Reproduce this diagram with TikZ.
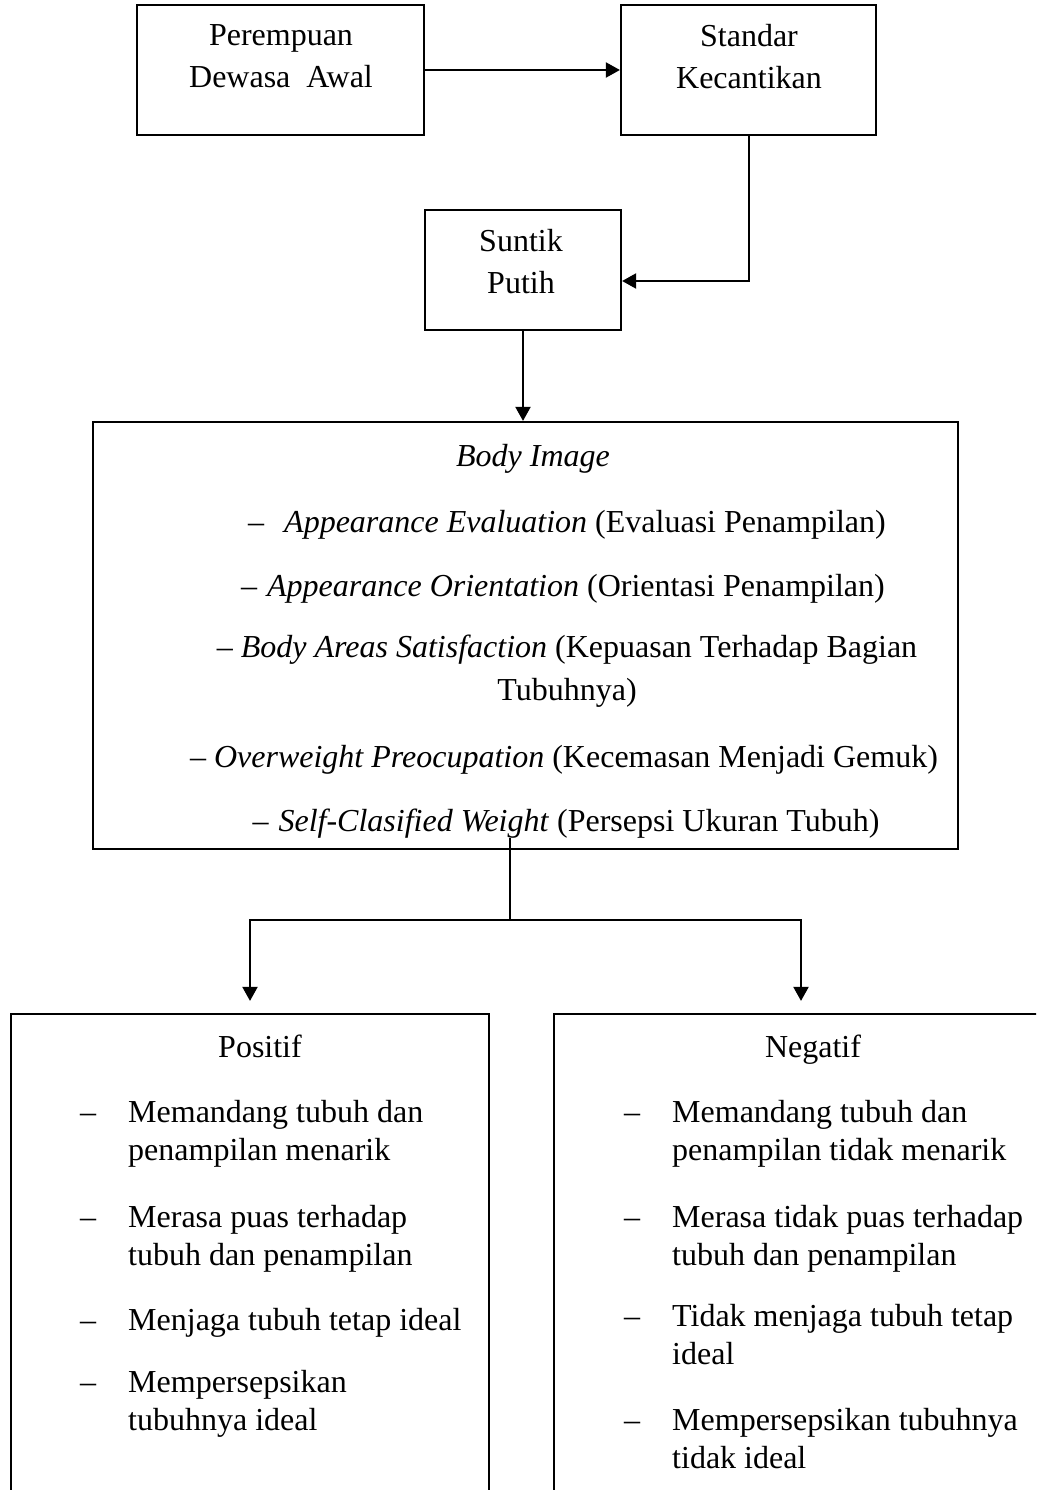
\documentclass[tikz,border=0pt]{standalone}
\usepackage{fontspec}
\setmainfont{Liberation Serif}
\usetikzlibrary{arrows.meta}
\newcommand{\tegak}{\rule{0pt}{27pt}}
\tikzset{
 kotak/.style={draw,line width=2.2pt,inner sep=0pt},
 teks/.style={inner sep=0pt,anchor=north,align=center,font=\fontsize{32}{42}\selectfont,execute at begin node=\tegak},
 butir/.style={teks,anchor=north west,align=left,font=\fontsize{32}{38}\selectfont},
 garis/.style={line width=2pt},
 panah/.style={garis,-{Triangle[length=14pt,width=15pt]}}
}
\begin{document}
\begin{tikzpicture}[x=1pt,y=-1pt]
\useasboundingbox (0,0) rectangle (1036,1490); \clip (0,0) rectangle (1036,1490);
% kotak atas
\node[kotak,minimum width=287pt,minimum height=130pt] (dewasa) at (280.5,70) {};
\node[kotak,minimum width=255pt,minimum height=130pt] (standar) at (748.5,70) {};
\node[kotak,minimum width=196pt,minimum height=120pt] (suntik) at (523,270) {};
\node[teks] (dewasaT) at (281,24) {Perempuan\\Dewasa\ \ Awal};
\node[teks] (standarT) at (749,24) {Standar\\Kecantikan};
\node[teks] (suntikT) at (521,229) {Suntik\\Putih};
% body image
\node[kotak,minimum width=865pt,minimum height=427pt] (body) at (525.5,635.5) {};
\node[teks] (bodyT) at (533,439) {\textit{Body Image}};
\node[teks] (b1) at (567,505) {\textendash\hspace{20pt}\textit{Appearance Evaluation} (Evaluasi Penampilan)};
\node[teks] (b2) at (563,569) {\textendash\hspace{10pt}\textit{Appearance Orientation} (Orientasi Penampilan)};
\node[teks,font=\fontsize{32}{43}\selectfont] (b3) at (567,635) {\textendash\hspace{8pt}\textit{Body Areas Satisfaction} (Kepuasan Terhadap Bagian\\Tubuhnya)};
\node[teks] (b4) at (564,740) {\textendash\hspace{8pt}\textit{Overweight Preocupation} (Kecemasan Menjadi Gemuk)};
\node[teks] (b5) at (566,804) {\textendash\hspace{10pt}\textit{Self-Clasified Weight} (Persepsi Ukuran Tubuh)};
% kotak bawah
\node[kotak,minimum width=478pt,minimum height=496pt] (positif) at (250,1262) {};
\node[kotak,minimum width=494pt,minimum height=496pt] (negatif) at (801,1262) {};
\node[teks] (positifT) at (260,1030) {Positif};
\node[teks] (negatifT) at (813,1030) {Negatif};
\node[butir] (p1) at (128,1100) {\llap{\textendash\hspace{32pt}}Memandang tubuh dan\\penampilan menarik};
\node[butir] (p2) at (128,1205) {\llap{\textendash\hspace{32pt}}Merasa puas terhadap\\tubuh dan penampilan};
\node[butir] (p3) at (128,1303) {\llap{\textendash\hspace{32pt}}Menjaga tubuh tetap ideal};
\node[butir] (p4) at (128,1370) {\llap{\textendash\hspace{32pt}}Mempersepsikan\\tubuhnya ideal};
\node[butir] (n1) at (672,1100) {\llap{\textendash\hspace{32pt}}Memandang tubuh dan\\penampilan tidak menarik};
\node[butir] (n2) at (672,1205) {\llap{\textendash\hspace{32pt}}Merasa tidak puas terhadap\\tubuh dan penampilan};
\node[butir] (n3) at (672,1304) {\llap{\textendash\hspace{32pt}}Tidak menjaga tubuh tetap\\ideal};
\node[butir] (n4) at (672,1408) {\llap{\textendash\hspace{32pt}}Mempersepsikan tubuhnya\\tidak ideal};
% penghubung
\draw[panah] (dewasa.east) -- (standar.west);
\draw[panah] (standar.south) |- ([yshift=-11pt]suntik.east);
\draw[panah] (suntik.south) -- (suntik.south |- body.north);
\coordinate (cabang) at (510,920);
\draw[garis] ([yshift=12pt]body.south -| cabang) -- (cabang);
\draw[panah] (cabang) -| ([yshift=12pt]positif.north);
\draw[panah] (cabang) -| ([yshift=12pt]negatif.north);
\end{tikzpicture}
\end{document}
